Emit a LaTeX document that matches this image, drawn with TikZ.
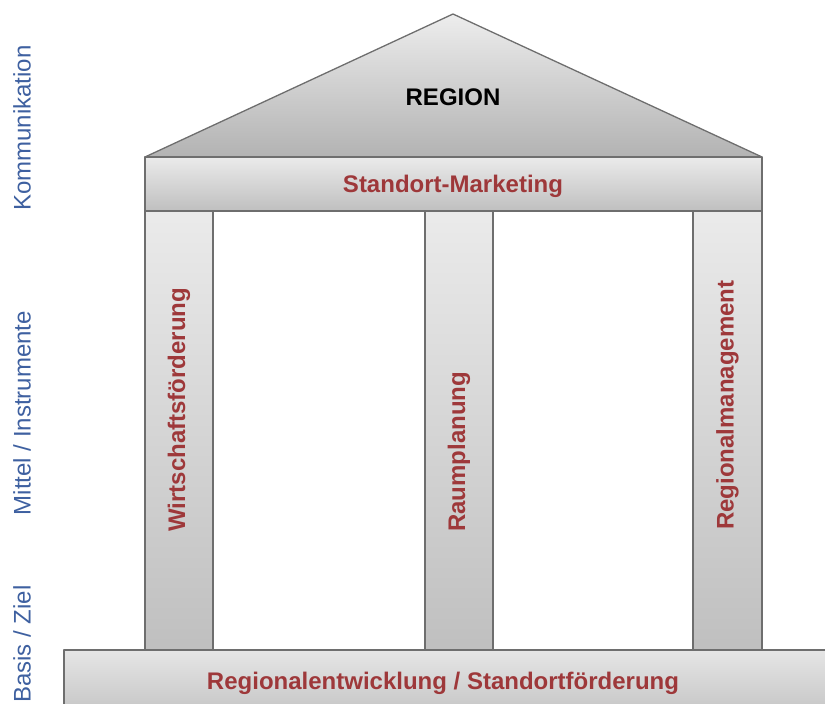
\documentclass[tikz,border=0pt]{standalone}
\usepackage{fontspec}
\setmainfont{Liberation Sans}
\definecolor{labelred}{RGB}{158,56,58}
\definecolor{sideblue}{RGB}{62,96,160}
\definecolor{edgegray}{RGB}{110,110,110}
\begin{document}
\begin{tikzpicture}[x=1pt,y=-1pt,
  edge/.style={draw=edgegray, line width=1.3pt, line join=round},
  part/.style={edge, top color=black!8, bottom color=black!25},
  redlabel/.style={text=labelred, font=\bfseries\fontsize{24}{27}\selectfont, inner sep=0pt},
  sidelabel/.style={text=sideblue, font=\fontsize{24}{27}\selectfont, inner sep=0pt, rotate=90}]
  \useasboundingbox (0,0) rectangle (825,704);
  % roof
  \shade[top color=black!7, bottom color=black!30] (145,157) -- (453,14) -- (762,157) -- cycle;
  \draw[edge] (145,157) -- (453,14) -- (762,157);
  % beam
  \path[part] (145,157) rectangle (762,211);
  % pillars
  \path[part] (145,211) rectangle (213,651);
  \path[part] (425,211) rectangle (493,651);
  \path[part] (693,211) rectangle (762,651);
  % base
  \path[part, top color=black!10, bottom color=black!22] (64,650) rectangle (830,710);
  % texts
  \node[redlabel, text=black] (region) at (453,97) {REGION};
  \node[redlabel] (marketing) at (453,186) {Standort-Marketing};
  \node[redlabel, rotate=90, anchor=west] (wf) at (179,532) {Wirtschaftsförderung};
  \node[redlabel, rotate=90, anchor=west] (rp) at (459,532) {Raumplanung};
  \node[redlabel, rotate=90, anchor=west] (rm) at (727.5,530) {Regionalmanagement};
  \node[redlabel] (base) at (443,683) {Regionalentwicklung / Standortförderung};
  \node[sidelabel] (komm) at (22,128) {Kommunikation};
  \node[sidelabel] (mittel) at (22,413) {Mittel / Instrumente};
  \node[sidelabel] (basis) at (22,644) {Basis / Ziel};
\end{tikzpicture}
\end{document}
